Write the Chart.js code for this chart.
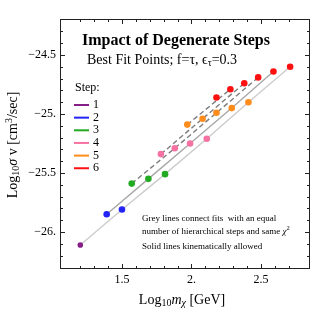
<!DOCTYPE html>
<html>
<head>
<meta charset="utf-8">
<script src="https://cdn.jsdelivr.net/npm/chart.js@4.4.0/dist/chart.umd.min.js"></script>
<style>
  html, body { margin: 0; padding: 0; background: #fff; }
</style>
</head>
<body>
<canvas id="chart" width="316" height="313"></canvas>
<script>
// Best fit points per number of steps: [log10 m, log10 sigma v]
const step1 = [[1.20, -26.11]];
const step2 = [[1.39, -25.85], [1.50, -25.81]];
const step3 = [[1.57, -25.59], [1.69, -25.55], [1.81, -25.51]];
const step4 = [[1.78, -25.34], [1.88, -25.29], [1.99, -25.25], [2.11, -25.21]];
const step5 = [[1.97, -25.09], [2.08, -25.04], [2.18, -24.99], [2.29, -24.95], [2.41, -24.90]];
const step6 = [[2.18, -24.86], [2.28, -24.79], [2.38, -24.74], [2.48, -24.69], [2.59, -24.64], [2.71, -24.60]];

const steps = [step1, step2, step3, step4, step5, step6];
const stepNames = ["1", "2", "3", "4", "5", "6"];
const stepColors = ["#851f85", "#2323f5", "#22aa22", "#f672a2", "#ff8c1a", "#ff1010"];

// grey lines: points with same (step - index)
const lineKeys = [1, 2, 3, 4, 5];
const lineColors = { 1: "#cccccc", 2: "#a8a8a8", 3: "#7d7d7d", 4: "#7d7d7d", 5: "#7d7d7d" };

const xRange = [1.054, 2.853];
const yRange = [-26.314, -24.195];

const serif = '"Liberation Serif", "Times New Roman", serif';
const minus = "\u2212";

function toXY(p) { return { x: p[0], y: p[1] }; }

const datasets = [];

steps.forEach(function (s, k) {
  datasets.push({
    label: stepNames[k],
    data: s.map(toXY),
    showLine: false,
    pointRadius: k === 0 ? 2.8 : 3.3,
    pointBackgroundColor: stepColors[k],
    pointBorderWidth: 0,
    order: 1
  });
});

lineKeys.forEach(function (key) {
  const pts = [];
  steps.forEach(function (s, k) {
    const i = (k + 1) - key;
    if (i >= 0 && i < s.length) pts.push(toXY(s[i]));
  });
  datasets.push({
    label: "line" + key,
    data: pts,
    showLine: true,
    borderColor: lineColors[key],
    borderWidth: 1.4,
    borderDash: key > 2 ? [5, 3] : [],
    pointRadius: 0,
    order: 2
  });
});

function tickLabel(v) {
  const r = Math.round(v * 10) / 10;
  if (Math.abs(r * 2 - Math.round(r * 2)) > 1e-6) return "";
  let s = Number.isInteger(r) ? Math.abs(r) + "." : Math.abs(r).toFixed(1);
  return (r < 0 ? minus : "") + s;
}

function rich(ctx, parts, x, y, align) {
  let w = 0;
  parts.forEach(function (p) {
    ctx.font = (p[2] || "") + " " + p[1] + "px " + serif;
    p.w = ctx.measureText(p[0]).width;
    w += p.w;
  });
  let cx = align === "center" ? x - w / 2 : x;
  ctx.textBaseline = "middle";
  ctx.textAlign = "left";
  parts.forEach(function (p) {
    ctx.font = (p[2] || "") + " " + p[1] + "px " + serif;
    ctx.fillText(p[0], cx, y + (p[3] || 0));
    cx += p.w;
  });
}

const framePlugin = {
  id: "frame",
  afterDatasetsDraw(chart) {
    const ctx = chart.ctx;
    const a = chart.chartArea;
    const xs = chart.scales.x, ys = chart.scales.y;
    ctx.save();
    ctx.strokeStyle = "#222";
    ctx.lineWidth = 1;
    ctx.strokeRect(a.left + 0.5, a.top + 0.5, a.right - a.left - 1, a.bottom - a.top - 1);
    ctx.beginPath();
    xs.ticks.forEach(function (t) {
      const v = t.value;
      if (Math.abs(v * 10 - Math.round(v * 10)) > 1e-6) return;
      const major = Math.abs(v * 2 - Math.round(v * 2)) < 1e-6;
      const len = major ? 5 : 3;
      const px = Math.round(xs.getPixelForValue(v)) + 0.5;
      ctx.moveTo(px, a.bottom); ctx.lineTo(px, a.bottom - len);
      ctx.moveTo(px, a.top); ctx.lineTo(px, a.top + len);
    });
    ys.ticks.forEach(function (t) {
      const v = t.value;
      if (Math.abs(v * 10 - Math.round(v * 10)) > 1e-6) return;
      const major = Math.abs(v * 2 - Math.round(v * 2)) < 1e-6;
      const len = major ? 5 : 3;
      const py = Math.round(ys.getPixelForValue(v)) + 0.5;
      ctx.moveTo(a.left, py); ctx.lineTo(a.left + len, py);
      ctx.moveTo(a.right, py); ctx.lineTo(a.right - len, py);
    });
    ctx.stroke();
    ctx.restore();
  },
  afterDraw(chart) {
    const ctx = chart.ctx;
    ctx.save();
    ctx.fillStyle = "#000";

    rich(ctx, [["Impact of Degenerate Steps", 16, "bold"]], 176, 41, "center");
    rich(ctx, [["Best Fit Points; f=", 14], ["\u03c4", 14], [", ", 14], ["\u03f5", 14], ["\u03c4", 10, "", 3], ["=0.3", 14]], 87, 60, "left");

    // legend
    rich(ctx, [["Step:", 12]], 75, 88, "left");
    stepNames.forEach(function (n, k) {
      const y = 105 + k * 12.65;
      ctx.strokeStyle = stepColors[k];
      ctx.lineWidth = 2;
      ctx.beginPath();
      ctx.moveTo(74, y); ctx.lineTo(89, y);
      ctx.stroke();
      rich(ctx, [[n, 12]], 93, y, "left");
    });

    // notes
    rich(ctx, [["Grey lines connect fits  with an equal", 9]], 142, 219, "left");
    rich(ctx, [["number of hierarchical steps and same ", 9], ["\u03c7", 9, "italic"], ["2", 6.5, "", -4]], 142, 232, "left");
    rich(ctx, [["Solid lines kinematically allowed", 9]], 142, 247, "left");

    // axis titles
    rich(ctx, [["Log", 14], ["10", 10, "", 3], ["m", 14, "italic"], ["\u03c7", 10, "italic", 3], [" [GeV]", 14]], 182, 300, "center");
    ctx.translate(13, 145);
    ctx.rotate(-Math.PI / 2);
    rich(ctx, [["Log", 14], ["10", 10, "", 3], ["\u03c3", 14, "italic"], [" v [cm", 14], ["3", 10, "", -4], ["/sec]", 14]], 0, 0, "center");
    ctx.restore();
  }
};

new Chart(document.getElementById("chart"), {
  type: "scatter",
  data: { datasets: datasets },
  options: {
    responsive: false,
    animation: false,
    events: [],
    layout: { padding: { top: 19, right: 6, left: 0, bottom: 0 } },
    plugins: { legend: { display: false }, tooltip: { enabled: false } },
    scales: {
      x: {
        type: "linear",
        min: xRange[0],
        max: xRange[1],
        grid: { display: false, drawTicks: false },
        border: { display: false },
        afterFit: function (s) { s.height = 44; },
        ticks: {
          stepSize: 0.1,
          autoSkip: false,
          maxRotation: 0,
          padding: 4,
          color: "#000",
          font: { family: serif, size: 12 },
          callback: tickLabel
        }
      },
      y: {
        type: "linear",
        min: yRange[0],
        max: yRange[1],
        grid: { display: false, drawTicks: false },
        border: { display: false },
        afterFit: function (s) { s.width = 60; },
        ticks: {
          stepSize: 0.1,
          autoSkip: false,
          padding: 4,
          color: "#000",
          font: { family: serif, size: 12 },
          callback: tickLabel
        }
      }
    }
  },
  plugins: [framePlugin]
});
</script>
</body>
</html>
